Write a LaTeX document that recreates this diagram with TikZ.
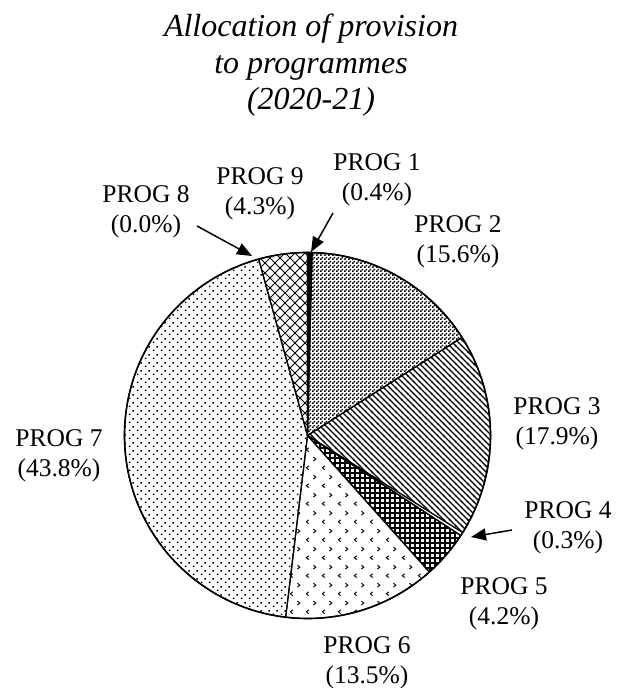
\documentclass[tikz,border=0pt]{standalone}
\usepackage{fontspec}
\setmainfont{Liberation Serif}
\usetikzlibrary{patterns,arrows.meta}

\pgfdeclarepatternformonly{pchecker}{\pgfqpoint{0pt}{0pt}}{\pgfqpoint{4pt}{4pt}}{\pgfqpoint{4pt}{4pt}}{%
  \pgfpathrectangle{\pgfqpoint{0pt}{0pt}}{\pgfqpoint{2pt}{2pt}}%
  \pgfpathrectangle{\pgfqpoint{2pt}{2pt}}{\pgfqpoint{2pt}{2pt}}%
  \pgfusepath{fill}}
\pgfdeclarepatternformonly{pdiag}{\pgfqpoint{-1pt}{-1pt}}{\pgfqpoint{7pt}{7pt}}{\pgfqpoint{6pt}{6pt}}{%
  \pgfsetlinewidth{1.1pt}%
  \pgfpathmoveto{\pgfqpoint{-1pt}{7pt}}\pgfpathlineto{\pgfqpoint{7pt}{-1pt}}%
  \pgfusepath{stroke}}
\pgfdeclarepatternformonly{pgrid}{\pgfqpoint{-1pt}{-1pt}}{\pgfqpoint{6pt}{6pt}}{\pgfqpoint{5pt}{5pt}}{%
  \pgfsetlinewidth{1.3pt}%
  \pgfpathmoveto{\pgfqpoint{-1pt}{0pt}}\pgfpathlineto{\pgfqpoint{6pt}{0pt}}%
  \pgfpathmoveto{\pgfqpoint{0pt}{-1pt}}\pgfpathlineto{\pgfqpoint{0pt}{6pt}}%
  \pgfusepath{stroke}}
\pgfdeclarepatternformonly{pxhatch}{\pgfqpoint{-1pt}{-1pt}}{\pgfqpoint{11pt}{11pt}}{\pgfqpoint{10pt}{10pt}}{%
  \pgfsetlinewidth{0.8pt}%
  \pgfpathmoveto{\pgfqpoint{-1pt}{-1pt}}\pgfpathlineto{\pgfqpoint{11pt}{11pt}}%
  \pgfpathmoveto{\pgfqpoint{-1pt}{11pt}}\pgfpathlineto{\pgfqpoint{11pt}{-1pt}}%
  \pgfusepath{stroke}}
\pgfdeclarepatternformonly{pdots}{\pgfqpoint{0pt}{0pt}}{\pgfqpoint{8pt}{8pt}}{\pgfqpoint{8pt}{8pt}}{%
  \pgfpathrectangle{\pgfqpoint{1pt}{1pt}}{\pgfqpoint{1.6pt}{1.6pt}}%
  \pgfpathrectangle{\pgfqpoint{5pt}{5pt}}{\pgfqpoint{1.6pt}{1.6pt}}%
  \pgfusepath{fill}}
\pgfdeclarepatternformonly{pchev}{\pgfqpoint{0pt}{0pt}}{\pgfqpoint{16pt}{18pt}}{\pgfqpoint{16pt}{18pt}}{%
  \pgfsetlinewidth{1pt}%
  \pgfpathmoveto{\pgfqpoint{5pt}{6.5pt}}\pgfpathlineto{\pgfqpoint{2.5pt}{4.5pt}}\pgfpathlineto{\pgfqpoint{5pt}{2.5pt}}%
  \pgfpathmoveto{\pgfqpoint{10pt}{15.5pt}}\pgfpathlineto{\pgfqpoint{12.5pt}{13.5pt}}\pgfpathlineto{\pgfqpoint{10pt}{11.5pt}}%
  \pgfusepath{stroke}}

\tikzset{
  slice/.style={draw=black, line width=1.2pt, line join=round},
  lbl/.style={align=center, anchor=base, inner sep=0pt, font=\fontsize{25.5}{30}\selectfont},
  ttl/.style={align=center, anchor=base, inner sep=0pt, font=\fontsize{32}{36.7}\selectfont\itshape},
  callout/.style={line width=1.5pt, -{Triangle[length=15pt,width=12pt]}}
}

\begin{document}
\begin{tikzpicture}[x=1pt,y=1pt]
\useasboundingbox (0,0) rectangle (616,688);
\coordinate (c) at (307.5,252.5);
\def\R{183}
% slices (clockwise from top)
\draw[slice, fill=black] (c) -- ++(90:\R) arc[start angle=90, end angle=88.56, radius=\R] -- cycle;
\draw[slice, pattern=pchecker] (c) -- ++(88.56:\R) arc[start angle=88.56, end angle=32.4, radius=\R] -- cycle;
\draw[slice, pattern=pdiag] (c) -- ++(32.4:\R) arc[start angle=32.4, end angle=-32.04, radius=\R] -- cycle;
\draw[slice, fill=white] (c) -- ++(-32.04:\R) arc[start angle=-32.04, end angle=-33.12, radius=\R] -- cycle;
\draw[slice, pattern=pgrid] (c) -- ++(-33.12:\R) arc[start angle=-33.12, end angle=-48.24, radius=\R] -- cycle;
\draw[slice, pattern=pchev] (c) -- ++(-48.24:\R) arc[start angle=-48.24, end angle=-96.84, radius=\R] -- cycle;
\draw[slice, pattern=pdots] (c) -- ++(-96.84:\R) arc[start angle=-96.84, end angle=-254.52, radius=\R] -- cycle;
\draw[slice, pattern=pxhatch] (c) -- ++(-254.52:\R) arc[start angle=-254.52, end angle=-270, radius=\R] -- cycle;
\draw[line width=1.6pt] (c) circle[radius=\R];

% title (anchor = baseline of last line)
\node[ttl] (title) at (311,578) {Allocation of provision\\to programmes\\(2020-21)};

% labels (anchor = baseline of second line)
\node[lbl] (l1) at (377,487.3) {PROG 1\\(0.4\%)};
\node[lbl] (l2) at (458,425) {PROG 2\\(15.6\%)};
\node[lbl] (l3) at (557,243) {PROG 3\\(17.9\%)};
\node[lbl] (l4) at (568,139) {PROG 4\\(0.3\%)};
\node[lbl] (l5) at (504,63) {PROG 5\\(4.2\%)};
\node[lbl] (l6) at (367,5) {PROG 6\\(13.5\%)};
\node[lbl] (l7) at (59,211.3) {PROG 7\\(43.8\%)};
\node[lbl] (l8) at (146,455) {PROG 8\\(0.0\%)};
\node[lbl] (l9) at (260,473) {PROG 9\\(4.3\%)};

% callouts
\coordinate (a1s) at (333,475);
\coordinate (a1t) at (311,436);
\coordinate (a8s) at (197,462);
\coordinate (a8t) at (252,432);
\coordinate (a4s) at (512,158);
\coordinate (a4t) at (471,151);
\draw[callout] (a1s) -- (a1t);
\draw[callout] (a8s) -- (a8t);
\draw[callout] (a4s) -- (a4t);
\end{tikzpicture}
\end{document}
